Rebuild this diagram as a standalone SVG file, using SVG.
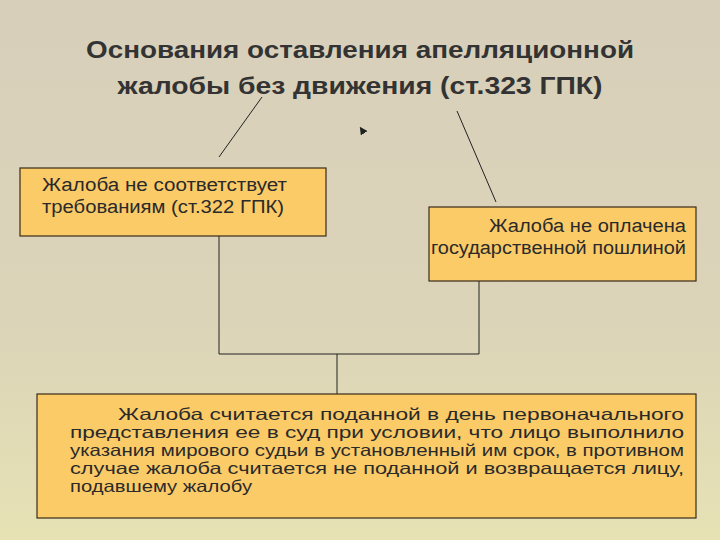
<svg xmlns="http://www.w3.org/2000/svg" width="720" height="540" viewBox="0 0 720 540">
<defs>
<linearGradient id="bg" x1="0" y1="0" x2="0" y2="1"><stop offset="0" stop-color="#d8cfbb"/><stop offset="0.6" stop-color="#dcd4b8"/><stop offset="1" stop-color="#e6e2b4"/></linearGradient>
<marker id="ah" markerWidth="8" markerHeight="8" refX="4" refY="4" orient="auto"><path d="M0,0 L8,4 L0,8 z" fill="#222"/></marker>
</defs>
<style>
.box{fill:#fbcb68;stroke:#3a2a1a;stroke-width:1.2}
.t{font-family:"Liberation Sans",Arial,sans-serif;font-size:18px;fill:#2a2a2a}
.b{font-size:16.5px}
.title{font-family:"Liberation Sans",Arial,sans-serif;font-size:24px;font-weight:bold;fill:#333;text-anchor:middle}
.ln{stroke:#222;stroke-width:1;fill:none}
</style>
<rect width="720" height="540" fill="url(#bg)"/>
<text class="title" x="360" y="58" textLength="548" lengthAdjust="spacingAndGlyphs">Основания оставления апелляционной</text>
<text class="title" x="360" y="94" textLength="485" lengthAdjust="spacingAndGlyphs">жалобы без движения (ст.323 ГПК)</text>
<g id="connectors">
<line class="ln" x1="262" y1="97" x2="219" y2="157"/>
<line class="ln" x1="457" y1="111" x2="496" y2="202"/>
<line class="ln" x1="364" y1="133" x2="362" y2="130" marker-end="url(#ah)"/>
<polyline class="ln" points="219,236 219,354 479,354 479,281"/>
<line class="ln" x1="337" y1="354" x2="337" y2="394"/>
</g>
<g id="node1">
<rect class="box" x="20" y="168" width="306" height="68"/>
<text class="t" x="42" y="191" textLength="245" lengthAdjust="spacingAndGlyphs">Жалоба не соответствует</text>
<text class="t" x="42" y="213" textLength="242" lengthAdjust="spacingAndGlyphs">требованиям (ст.322 ГПК)</text>
</g>
<g id="node2">
<rect class="box" x="429" y="207" width="267" height="74"/>
<text class="t" x="489" y="232" textLength="197" lengthAdjust="spacingAndGlyphs">Жалоба не оплачена</text>
<text class="t" x="431" y="254" textLength="255" lengthAdjust="spacingAndGlyphs">государственной пошлиной</text>
</g>
<g id="node3">
<rect class="box" x="37" y="394" width="659" height="124"/>
<text class="t b" x="118" y="420" textLength="566" lengthAdjust="spacingAndGlyphs">Жалоба  считается  поданной  в  день  первоначального</text>
<text class="t b" x="70" y="438" textLength="614" lengthAdjust="spacingAndGlyphs">представления  ее  в  суд  при  условии,  что  лицо  выполнило</text>
<text class="t b" x="70" y="456" textLength="614" lengthAdjust="spacingAndGlyphs">указания мирового судьи в установленный им срок, в противном</text>
<text class="t b" x="70" y="474" textLength="614" lengthAdjust="spacingAndGlyphs">случае  жалоба  считается  не  поданной  и  возвращается  лицу,</text>
<text class="t b" x="70" y="492" textLength="182" lengthAdjust="spacingAndGlyphs">подавшему жалобу</text>
</g>
</svg>
